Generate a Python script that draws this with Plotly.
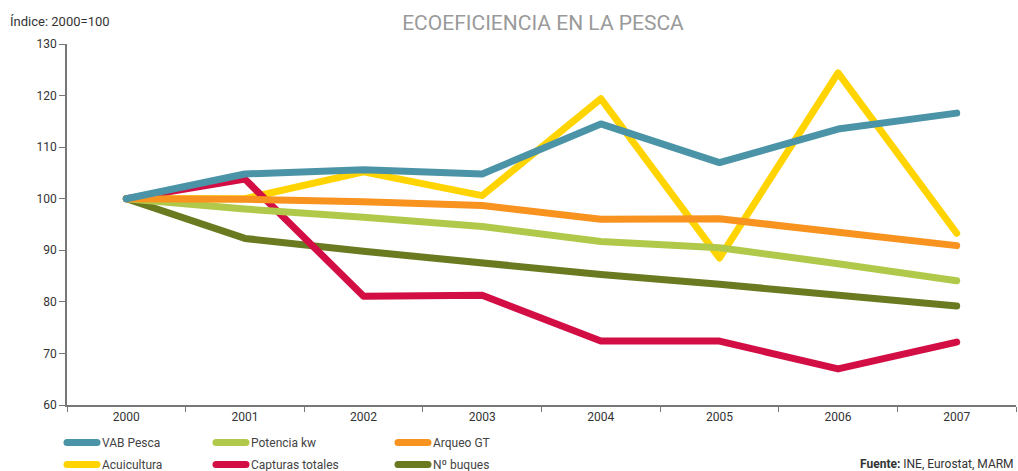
import plotly.graph_objects as go

years = ["2000", "2001", "2002", "2003", "2004", "2005", "2006", "2007"]
vab_pesca = [100, 104.8, 105.6, 104.8, 114.5, 107.0, 113.5, 116.6]
potencia_kw = [100, 98.0, 96.4, 94.6, 91.7, 90.5, 87.4, 84.1]
arqueo_gt = [100, 99.9, 99.4, 98.7, 96.0, 96.1, 93.5, 90.9]
acuicultura = [100, 100.0, 105.2, 100.6, 119.4, 88.5, 124.4, 93.3]
capturas_totales = [100, 103.8, 81.1, 81.3, 72.4, 72.4, 67.0, 72.2]
n_buques = [100, 92.3, 89.8, 87.5, 85.3, 83.4, 81.3, 79.2]

series = [
    # name, values, color, legend, rank
    ("Acuicultura", acuicultura, "#ffd400", "legend", 2),
    ("Nº buques", n_buques, "#6a7a20", "legend3", 2),
    ("Capturas totales", capturas_totales, "#d20e45", "legend2", 2),
    ("Potencia kw", potencia_kw, "#b1c94a", "legend2", 1),
    ("Arqueo GT", arqueo_gt, "#f7931e", "legend3", 1),
    ("VAB Pesca", vab_pesca, "#4b94a7", "legend", 1),
]

fig = go.Figure()
for name, vals, color, leg, rank in series:
    fig.add_trace(go.Scatter(
        x=years, y=vals, name=name, mode="lines",
        line=dict(color=color, width=7),
        legend=leg, legendrank=rank, legendgroup=name,
    ))

W, H = 1018, 471
font_family = "Roboto, 'Open Sans', sans-serif"

def leg(xpx, ypx):
    return dict(
        xref="container", yref="container",
        x=xpx / W, y=1 - ypx / H, xanchor="left", yanchor="top",
        orientation="v", font=dict(size=12, color="#444", family=font_family),
        bgcolor="rgba(0,0,0,0)", tracegroupgap=3, itemwidth=30,
    )

fig.update_layout(
    width=W, height=H,
    margin=dict(l=67, r=2, t=44, b=66, autoexpand=False),
    paper_bgcolor="white", plot_bgcolor="white",
    font=dict(family=font_family, size=12, color="#333"),
    title=dict(
        text="ECOEFICIENCIA EN LA PESCA",
        x=543 / W, y=1 - 23 / H, xref="container", yref="container",
        xanchor="center", yanchor="middle",
        font=dict(size=21, color="#9a9a9a", family=font_family),
    ),
    showlegend=True,
    legend=leg(62, 428),
    legend2=leg(211, 428),
    legend3=leg(393, 428),
    xaxis=dict(
        type="category", range=[-0.5, 7.5],
        showline=True, linecolor="#777", linewidth=1.5,
        ticks="outside", tickson="boundaries", ticklen=5, tickcolor="#777",
        showgrid=False, zeroline=False,
        tickfont=dict(size=12, color="#333"),
    ),
    yaxis=dict(
        range=[60, 130], dtick=10, tick0=60,
        showline=True, linecolor="#777", linewidth=1.5,
        ticks="outside", ticklen=6, tickcolor="#777",
        showgrid=False, zeroline=False,
        tickfont=dict(size=12, color="#333"),
    ),
    annotations=[
        dict(text="Índice: 2000=100", xref="paper", yref="paper",
             x=-59 / 949, y=1, yshift=23, xanchor="left", yanchor="middle",
             showarrow=False, font=dict(size=13, color="#333")),
        dict(text="<b>Fuente:</b> INE, Eurostat, MARM", xref="paper", yref="paper",
             x=1, y=0, yshift=-59, xanchor="right", yanchor="middle",
             showarrow=False, font=dict(size=12, color="#333")),
    ],
)

post = (
    "document.body.style.margin='0px';"
    "document.querySelectorAll('.scatterlayer .js-line, .legendlines path')"
    ".forEach(function(p){p.style.strokeLinecap='round';p.style.strokeLinejoin='round';});"
)
fig.write_html("out.html", config={"displayModeBar": False}, post_script=post)
